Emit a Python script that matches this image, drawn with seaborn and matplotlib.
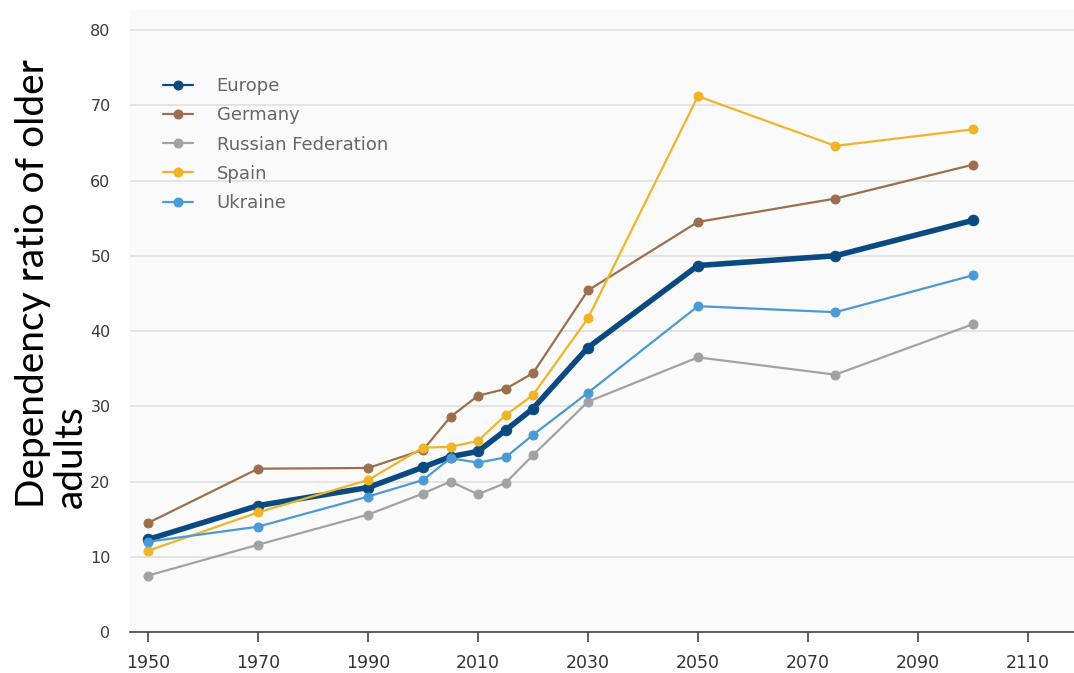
import matplotlib
matplotlib.use("Agg")
import matplotlib.pyplot as plt
import seaborn as sns
import pandas as pd

# Years with estimates / projections
years = [1950, 1970, 1990, 2000, 2005, 2010, 2015, 2020, 2030, 2050, 2075, 2100]

# Old-age dependency ratio per region
europe = [12.3, 16.8, 19.2, 21.9, 23.3, 24.0, 26.8, 29.7, 37.8, 48.7, 50.0, 54.7]
germany = [14.5, 21.7, 21.8, 24.2, 28.6, 31.4, 32.3, 34.4, 45.4, 54.5, 57.6, 62.1]
russia = [7.5, 11.6, 15.6, 18.4, 20.0, 18.3, 19.8, 23.5, 30.6, 36.5, 34.2, 40.9]
spain = [10.8, 15.9, 20.2, 24.5, 24.6, 25.4, 28.8, 31.5, 41.7, 71.2, 64.6, 66.8]
ukraine = [12.0, 14.0, 18.0, 20.2, 23.1, 22.5, 23.2, 26.2, 31.8, 43.3, 42.5, 47.4]

series_names = ["Europe", "Germany", "Russian Federation", "Spain", "Ukraine"]
series_values = [europe, germany, russia, spain, ukraine]

x_ticks = [1950, 1970, 1990, 2010, 2030, 2050, 2070, 2090, 2110]
y_ticks = [0, 10, 20, 30, 40, 50, 60, 70, 80]
y_label = "Dependency ratio of older\nadults"

colors = {
    "Europe": "#0b4a80",
    "Germany": "#9b6f4d",
    "Russian Federation": "#a2a2a2",
    "Spain": "#f0b428",
    "Ukraine": "#4b9ad3",
}
widths = {"Europe": 4.0, "Germany": 1.6, "Russian Federation": 1.6, "Spain": 1.6, "Ukraine": 1.6}
msizes = {"Europe": 7.5, "Germany": 6.4, "Russian Federation": 6.4, "Spain": 6.4, "Ukraine": 6.4}

df = pd.DataFrame(
    [(n, yr, v) for n, vals in zip(series_names, series_values) for yr, v in zip(years, vals)],
    columns=["region", "year", "ratio"],
)

sns.set_theme(style="white")
plt.rcParams["font.family"] = ["DejaVu Sans"]

fig = plt.figure(figsize=(10.74, 6.73), dpi=100)
W, H = 1074, 673
ax = fig.add_axes([130 / W, (H - 632) / H, 944 / W, 622 / H])
ax.set_facecolor("#fafafa")

for name in series_names:
    sub = df[df["region"] == name]
    sns.lineplot(
        data=sub, x="year", y="ratio", ax=ax,
        color=colors[name], linewidth=widths[name],
        marker="o", markersize=msizes[name],
        markeredgecolor=colors[name], markeredgewidth=0.8,
        label=name, zorder=3,
    )

ax.set_xlim(1946.7, 2118.4)
ax.set_ylim(0, 82.66)
ax.set_xticks(x_ticks)
ax.set_yticks(y_ticks)
ax.set_xticklabels([str(t) for t in x_ticks])
ax.set_yticklabels([str(t) for t in y_ticks])

ax.grid(axis="y", color="#e2e2e2", linewidth=1.3, zorder=0)
ax.grid(axis="x", visible=False)
ax.set_axisbelow(True)

for s in ["left", "right", "top"]:
    ax.spines[s].set_visible(False)
ax.spines["bottom"].set_color("#444444")
ax.spines["bottom"].set_linewidth(1.2)
ax.spines["bottom"].set_zorder(4)

ax.tick_params(axis="x", direction="out", length=7, width=1.2, color="#444444",
               pad=9, labelsize=12.5, labelcolor="#333333")
ax.tick_params(axis="y", length=0, pad=14, labelsize=11.5, labelcolor="#3a3a3a")
ax.tick_params(axis="x", bottom=True)

ax.set_xlabel("")
ax.set_ylabel(y_label, fontsize=28, family="Lato", color="black",
              va="center", multialignment="left", linespacing=1.05)
ax.yaxis.set_label_coords(-0.083, 0.56)

leg = ax.legend(
    loc="upper left", bbox_to_anchor=(0.035, 0.892), borderaxespad=0,
    frameon=False, fontsize=13, handlelength=1.67, handletextpad=1.3,
    labelspacing=0.62, borderpad=0,
)
for t in leg.get_texts():
    t.set_color("#666666")
for h in leg.legend_handles:
    h.set_linewidth(1.6)
    h.set_markersize(6.4)

fig.savefig("out.png", dpi=100, facecolor="white")
